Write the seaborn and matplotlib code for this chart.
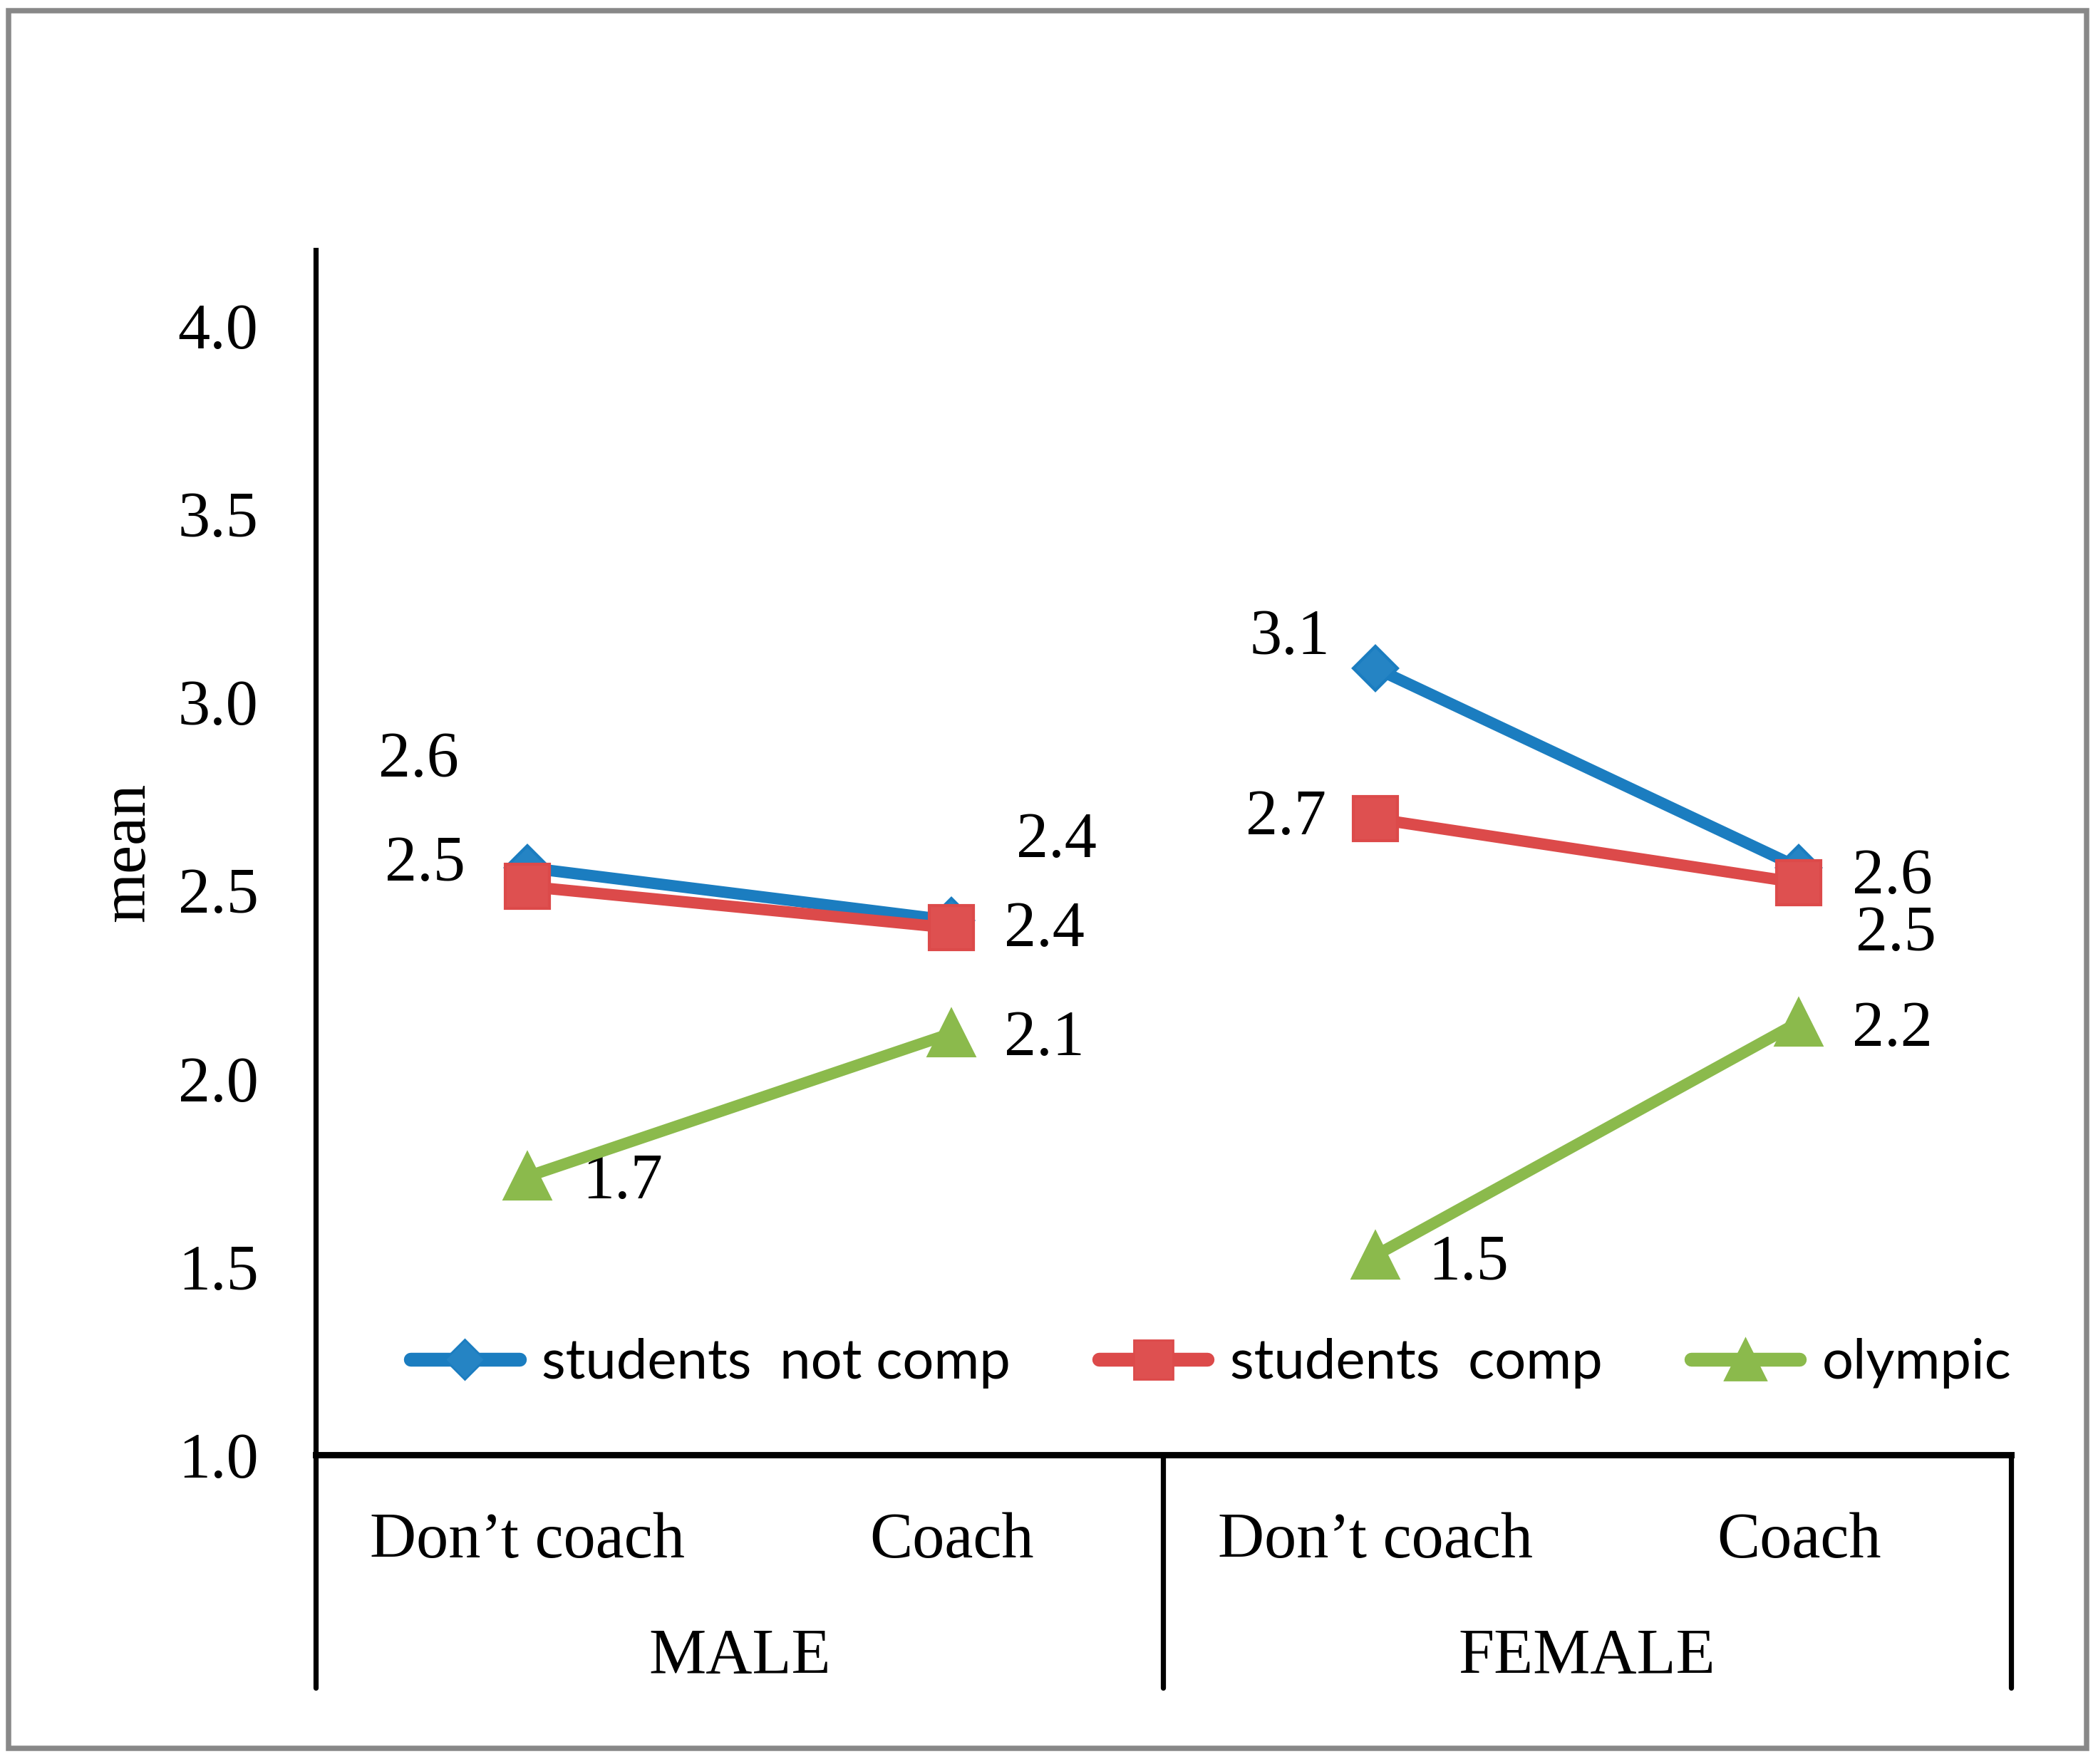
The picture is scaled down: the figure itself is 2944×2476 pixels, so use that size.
import numpy as np
import pandas as pd
import matplotlib
matplotlib.use("Agg")
import matplotlib.pyplot as plt
import matplotlib.transforms as mtransforms
from matplotlib.lines import Line2D
from matplotlib.patches import Rectangle
import seaborn as sns

# data
genders = ["MALE", "FEMALE"]
conditions = ["Don\u2019t coach", "Coach"]
series = ["students  not comp", "students  comp", "olympic"]

not_comp = [2.56, 2.42, 3.09, 2.56]
comp = [2.51, 2.40, 2.69, 2.52]
olympic = [1.74, 2.12, 1.53, 2.15]

not_comp_labels = ["2.6", "2.4", "3.1", "2.6"]
comp_labels = ["2.5", "2.4", "2.7", "2.5"]
olympic_labels = ["1.7", "2.1", "1.5", "2.2"]

yticks = [1.0, 1.5, 2.0, 2.5, 3.0, 3.5, 4.0]

# styles
colors = ["#1B7DC0", "#DC4A4A", "#8BBA4C"]
faces = ["#2584C4", "#DE5050", "#8BBA4C"]
markers = ["D", "s", "^"]
msizes = [16, 22, 23]
# label offsets in points (dx, dy)
offsets = [
    [(-55, 54), (53, 40), (-43, 15), (47, -5)],
    [(-52, 11), (47, -1), (-45, 0), (49, -26)],
    [(48, -3), (47, -3), (47, -4), (47, -4)],
]

values = [not_comp, comp, olympic]
labels = [not_comp_labels, comp_labels, olympic_labels]

rows = []
for s, vals in zip(series, values):
    for i, v in enumerate(vals):
        rows.append({"series": s, "gender": genders[i // 2],
                     "condition": conditions[i % 2], "pos": i, "mean": v})
df = pd.DataFrame(rows)

sns.set_style("white")
plt.rcParams["font.family"] = ["Liberation Serif", "DejaVu Serif"]
plt.rcParams["text.color"] = "black"
plt.rcParams["axes.labelcolor"] = "black"
plt.rcParams["ytick.color"] = "black"

fig = plt.figure(figsize=(14.72, 12.38), dpi=200)
ax = fig.add_axes([0.1505, 0.1751, 0.808, 0.6831])

for k, s in enumerate(series):
    for g in genders:
        sub = df[(df["series"] == s) & (df["gender"] == g)]
        sns.lineplot(data=sub, x="pos", y="mean", ax=ax, color=colors[k],
                     marker=markers[k], markersize=msizes[k],
                     markerfacecolor=faces[k], markeredgecolor=colors[k],
                     markeredgewidth=1.5, linewidth=5.8, legend=False,
                     sort=False, zorder=3 + k)
    for i, v in enumerate(values[k]):
        ax.annotate(labels[k][i], (i, v), xytext=offsets[k][i],
                    textcoords="offset points", ha="center", va="center",
                    fontsize=32.5, color="black")

n = len(genders) * len(conditions)
ax.set_xlim(-0.5, n - 0.5)
ax.set_ylim(1.0, 4.2)
ax.set_xticks([])
ax.set_yticks(yticks)
ax.set_yticklabels([f"{v:.1f}" for v in yticks])
ax.tick_params(axis="y", length=0, pad=29, labelsize=32.5, labelcolor="black")
ax.set_xlabel("")
ax.set_ylabel("mean", fontsize=32.5, va="center")
ax.yaxis.set_label_coords(-0.1106, 0.5)

for side in ["top", "right"]:
    ax.spines[side].set_visible(False)
ax.spines["left"].set_linewidth(2.6)
ax.spines["bottom"].set_linewidth(3.2)
ax.spines["left"].set_color("black")
ax.spines["bottom"].set_color("black")

# category axis below the plot
trans = mtransforms.blended_transform_factory(ax.transData, ax.transAxes)
for i in range(n):
    ax.text(i, -0.072, conditions[i % 2], ha="center", va="center",
            fontsize=32.5, transform=trans)
for g, name in enumerate(genders):
    mid = g * len(conditions) + (len(conditions) - 1) / 2
    ax.text(mid, -0.168, name, ha="center", va="center",
            fontsize=32.5, transform=trans)
bounds = np.arange(len(genders) + 1) * len(conditions) - 0.5
for b in bounds:
    ax.plot([b, b], [0, -0.193], color="black", lw=2.6,
            transform=trans, clip_on=False)

# legend
handles = [Line2D([0], [0], color=colors[k], lw=7, marker=markers[k],
                  markersize=msizes[k] * 0.9, markerfacecolor=faces[k],
                  markeredgecolor=colors[k], solid_capstyle="round")
           for k in range(len(series))]
ax.legend(handles, series, ncol=3, loc="center", bbox_to_anchor=(0.528, 0.076),
          frameon=False, handlelength=1.96, handletextpad=0.4,
          columnspacing=1.6, prop={"family": "Lato", "size": 28})

# grey frame around the figure
fig.add_artist(Rectangle((0.0041, 0.0089), 0.9905, 0.985,
                         transform=fig.transFigure, fill=False,
                         edgecolor="#888888", linewidth=2.7))

fig.savefig("out.png", dpi=200)
